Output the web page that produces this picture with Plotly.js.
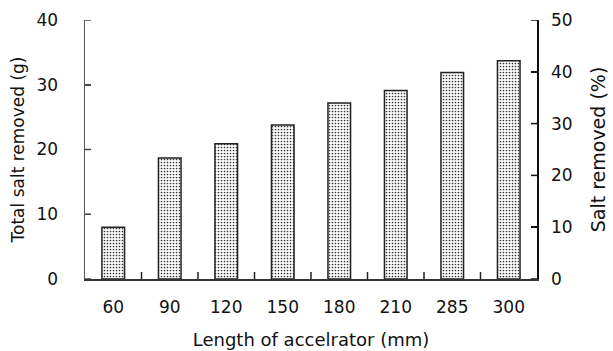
<!DOCTYPE html>
<html>
<head>
<meta charset="utf-8">
<script src="https://cdn.plot.ly/plotly-3.0.1.min.js"></script>
<style>html,body{margin:0;padding:0;background:#fff;}#chart{width:613px;height:351px;}</style>
</head>
<body>
<div id="chart"></div>
<script>
const categories = ["60", "90", "120", "150", "180", "210", "285", "300"];
const saltRemovedG = [8.0, 18.7, 20.9, 23.8, 27.2, 29.1, 31.9, 33.7];
const leftTicks = [0, 10, 20, 30, 40];
const rightTicks = [0, 10, 20, 30, 40, 50];

const font = {family: "DejaVu Sans, Liberation Sans, Arial, sans-serif", size: 17, color: "#111"};
const positions = categories.map((_, i) => i);
const boundaryTicks = categories.slice(1).map((_, i) => i + 0.5);
const xStart = -0.5;
const xEnd = categories.length - 0.5;

const traces = [
  {
    type: "bar",
    x: positions,
    y: saltRemovedG,
    width: 0.4,
    marker: {
      color: "white",
      line: {color: "#222", width: 1.5},
      pattern: {shape: ".", size: 3, solidity: 0.25, fgcolor: "#333", bgcolor: "white"}
    },
    hoverinfo: "skip",
    showlegend: false
  },
  {
    type: "scatter",
    mode: "markers",
    x: [positions[0]],
    y: [rightTicks[0]],
    yaxis: "y2",
    marker: {opacity: 0},
    hoverinfo: "skip",
    showlegend: false
  }
];

const xTickShapes = boundaryTicks.map(b => ({
  type: "line", xref: "x", yref: "y",
  ysizemode: "pixel", yanchor: 0,
  x0: b, x1: b, y0: 0, y1: 7,
  line: {color: "#222", width: 1.5}, layer: "above"
}));
const leftTickShapes = leftTicks.map(v => ({
  type: "line", xref: "x", yref: "y",
  xsizemode: "pixel", xanchor: xStart,
  x0: 0, x1: 6, y0: v, y1: v,
  line: {color: "#444", width: 1.5}, layer: "above"
}));
const rightTickShapes = rightTicks.map(v => ({
  type: "line", xref: "x", yref: "y2",
  xsizemode: "pixel", xanchor: xEnd,
  x0: -6, x1: 0, y0: v, y1: v,
  line: {color: "#111", width: 1.5}, layer: "above"
}));

const layout = {
  width: 613,
  height: 351,
  margin: {l: 85, r: 76, t: 20, b: 72},
  paper_bgcolor: "white",
  plot_bgcolor: "rgba(0,0,0,0)",
  font: font,
  shapes: [...xTickShapes, ...leftTickShapes, ...rightTickShapes],
  xaxis: {
    type: "linear",
    range: [xStart, xEnd],
    tickmode: "array",
    tickvals: positions,
    ticktext: categories,
    ticks: "",
    showline: true,
    linecolor: "#333",
    linewidth: 1.5,
    showgrid: false,
    zeroline: false,
    ticklabelstandoff: 12,
    tickfont: font,
    title: {text: "Length of accelrator (mm)", font: {...font, size: 18}, standoff: 17}
  },
  yaxis: {
    range: [0, 40],
    tickmode: "array",
    tickvals: leftTicks,
    showline: true,
    linecolor: "#555",
    linewidth: 1.5,
    showgrid: false,
    zeroline: false,
    ticks: "inside",
    ticklen: 6,
    tickwidth: 1.5,
    tickcolor: "#444",
    ticklabelstandoff: 22,
    tickfont: font,
    title: {text: "Total salt removed (g)", font: font, standoff: 7}
  },
  yaxis2: {
    range: [0, 50],
    tickmode: "array",
    tickvals: rightTicks,
    overlaying: "y",
    side: "right",
    anchor: "x",
    showline: true,
    linecolor: "#111",
    linewidth: 1.5,
    showgrid: false,
    zeroline: false,
    ticks: "inside",
    ticklen: 6,
    tickwidth: 1.5,
    tickcolor: "#111",
    ticklabelstandoff: 9,
    tickfont: font,
    title: {text: "Salt removed (%)", font: {...font, size: 19}, standoff: 20}
  }
};

Plotly.newPlot("chart", traces, layout, {displayModeBar: false, staticPlot: true});
</script>
</body>
</html>
